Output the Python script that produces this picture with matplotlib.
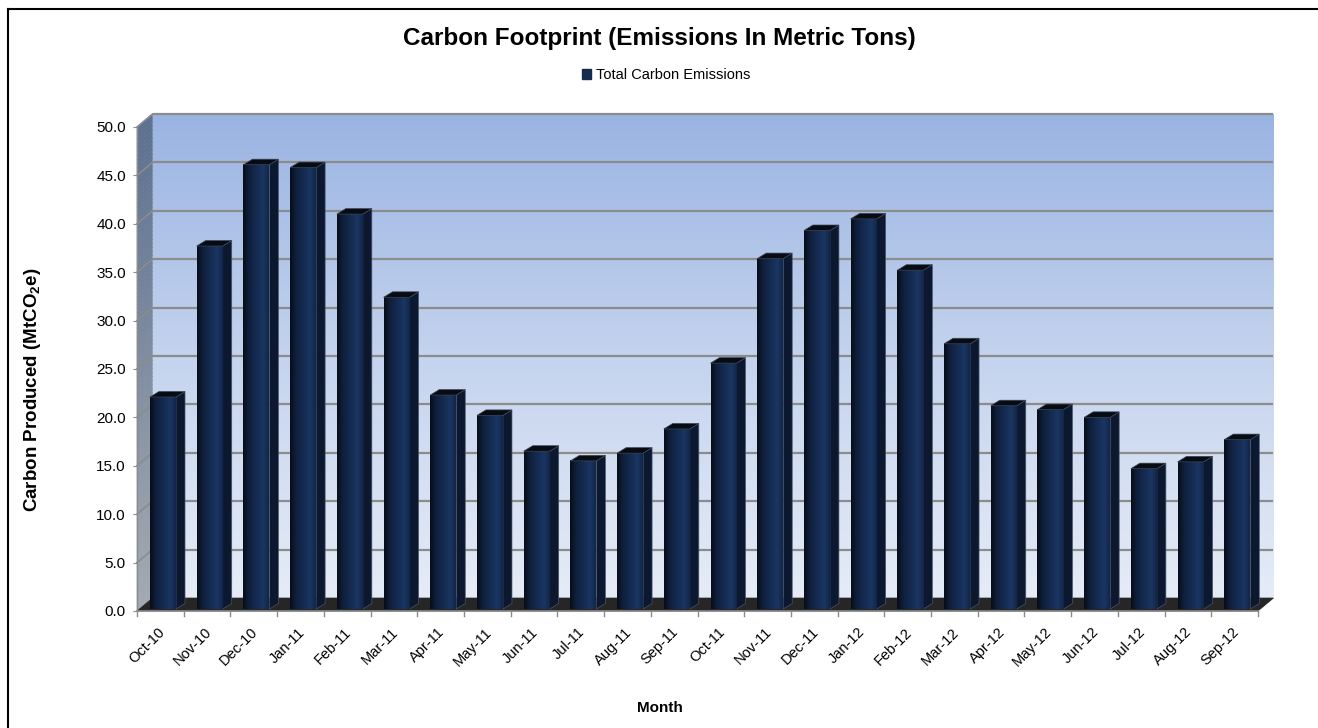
import numpy as np
import matplotlib
matplotlib.use("Agg")
import matplotlib.pyplot as plt
from matplotlib.colors import LinearSegmentedColormap, to_rgb
from matplotlib.patches import Polygon, Patch
from matplotlib.lines import Line2D
import matplotlib.transforms as mtransforms

plt.rcParams['font.family'] = ['Liberation Sans', 'DejaVu Sans']
plt.rcParams['mathtext.fontset'] = 'custom'
plt.rcParams['mathtext.rm'] = 'Liberation Sans'
plt.rcParams['mathtext.bf'] = 'Liberation Sans:bold'

# ---------------- data ----------------
months = ["Oct-10", "Nov-10", "Dec-10", "Jan-11", "Feb-11", "Mar-11", "Apr-11",
          "May-11", "Jun-11", "Jul-11", "Aug-11", "Sep-11", "Oct-11", "Nov-11",
          "Dec-11", "Jan-12", "Feb-12", "Mar-12", "Apr-12", "May-12", "Jun-12",
          "Jul-12", "Aug-12", "Sep-12"]
emissions = [21.9, 37.5, 45.9, 45.6, 40.8, 32.2, 22.1, 20.0, 16.3, 15.3, 16.1, 18.6,
             25.4, 36.2, 39.1, 40.3, 35.0, 27.4, 21.0, 20.6, 19.8, 14.5, 15.2, 17.5]
yticks = [0, 5, 10, 15, 20, 25, 30, 35, 40, 45, 50]
title = "Carbon Footprint (Emissions In Metric Tons)"
series_name = "Total Carbon Emissions"

# ---------------- layout ----------------
W, H = 1318, 728
fig = plt.figure(figsize=(W / 100, H / 100), dpi=100)
ax_l, ax_r, ax_t, ax_b = 137, 1258, 127, 611
ax = fig.add_axes([ax_l / W, (H - ax_b) / H, (ax_r - ax_l) / W, (ax_b - ax_t) / H])
n = len(months)
ax.set_xlim(0, n)
ax.set_ylim(0, 50)
ax.patch.set_visible(False)
for s in ax.spines.values():
    s.set_visible(False)

PXX = (ax_r - ax_l) / n      # px per category
PXY = (ax_b - ax_t) / 50.0   # px per unit
def dx(p):
    return p / PXX
def dy(p):
    return p / PXY

wdx, wdy = dx(15.5), dy(13)

# back wall gradient
wall_cmap = LinearSegmentedColormap.from_list('wall', ['#e6ecf7', '#c4d3ee', '#9ab4e2'])
grad = np.linspace(0, 1, 256).reshape(-1, 1)
ax.imshow(grad, cmap=wall_cmap, origin='lower', aspect='auto',
          extent=(wdx, n + wdx, wdy, 50 + wdy), clip_on=False, zorder=0,
          interpolation='bilinear')

# side wall (left) gradient strips
top_c = np.array(to_rgb('#5c7090'))
bot_c = np.array(to_rgb('#a3a9b1'))
N = 120
for k in range(N):
    y0 = 50 * k / N
    y1 = 50 * (k + 1) / N
    t = (k + 0.5) / N
    c = bot_c * (1 - t) + top_c * t
    ax.add_patch(Polygon([(0, y0), (wdx, y0 + wdy), (wdx, y1 + wdy), (0, y1)],
                         closed=True, facecolor=c, edgecolor=c, lw=0.4,
                         clip_on=False, zorder=1))

# gridlines
for v in yticks[1:]:
    ax.plot([wdx, n + wdx], [v + wdy, v + wdy], color='#8c8c8c', lw=1.6,
            clip_on=False, zorder=2, solid_capstyle='butt')
    ax.plot([0, wdx], [v, v + wdy], color='#8c8c8c', lw=1.2,
            clip_on=False, zorder=2)

# floor
ax.add_patch(Polygon([(0, 0), (n, 0), (n + wdx, wdy), (wdx, wdy)], closed=True,
                     facecolor='#262626', edgecolor='#262626', lw=0.5,
                     clip_on=False, zorder=3))

# bars
bar_cmap = LinearSegmentedColormap.from_list(
    'bar', [(0.0, '#070d18'), (0.22, '#0f1f3b'), (0.5, '#142a4f'),
            (0.78, '#1a3662'), (1.0, '#12264a')])
hgrad = np.linspace(0, 1, 64).reshape(1, -1)
bl, bw = dx(13), dx(26)
sdx, sdy = dx(9), dy(5.5)
b0 = dy(2)
for i, v in enumerate(emissions):
    xl = i + bl
    xr = xl + bw
    top = b0 + v
    # side face
    ax.add_patch(Polygon([(xr, b0), (xr + sdx, b0 + sdy), (xr + sdx, top + sdy), (xr, top)],
                         closed=True, facecolor='#0c1830', edgecolor='#4a5566', lw=0.5,
                         clip_on=False, zorder=5))
    # front face
    ax.imshow(hgrad, cmap=bar_cmap, origin='lower', aspect='auto',
              extent=(xl, xr, b0, top), clip_on=False, zorder=6,
              interpolation='bilinear')
    # top face
    ax.add_patch(Polygon([(xl, top), (xr, top), (xr + sdx, top + sdy), (xl + sdx, top + sdy)],
                         closed=True, facecolor='#070b13', edgecolor='#3c4656', lw=0.5,
                         clip_on=False, zorder=7))

ax.set_xlim(0, n)
ax.set_ylim(0, 50)

# front axes lines
ax.plot([0, n], [0, 0], color='#8c8c8c', lw=1.2, clip_on=False, zorder=4)
ax.plot([0, 0], [0, 50], color='#8c8c8c', lw=1.0, clip_on=False, zorder=4)
for i in range(n + 1):
    ax.plot([i, i], [0, -dy(5)], color='#8c8c8c', lw=1.0, clip_on=False, zorder=4)

# y ticks
ax.set_yticks(yticks)
ax.set_yticklabels([f"{v:.1f}" for v in yticks], fontsize=11)
ax.tick_params(axis='y', length=3, color='#8c8c8c', pad=5)
ax.set_xticks([])

# x tick labels
for i, m in enumerate(months):
    tr = mtransforms.offset_copy(ax.transData, fig=fig, x=-3, y=-14, units='dots')
    ax.text(i + 0.5, 0, m, transform=tr, rotation=45, ha='right', va='top',
            rotation_mode='anchor', fontsize=10.5, clip_on=False)

# titles / labels
fig.text(659 / W, 1 - 38 / H, title, ha='center', va='center', fontsize=17.5,
         fontweight='bold')
fig.text(660 / W, 1 - 708 / H, "Month", ha='center', va='center', fontsize=11,
         fontweight='bold')
fig.text(33 / W, 1 - 390 / H, r"Carbon Produced (MtCO$_\mathbf{2}$e)", ha='center',
         va='center', rotation=90, fontsize=13.5, fontweight='bold')

# legend
fig.legend(handles=[Patch(facecolor='#142a4f', edgecolor='#142a4f')], labels=[series_name],
           loc='center', bbox_to_anchor=(666 / W, 1 - 75 / H), frameon=False,
           fontsize=10.5, handlelength=0.65, handleheight=0.65, handletextpad=0.3)

# border (left and top visible)
fig.add_artist(Line2D([7.5 / W, 7.5 / W], [0, 1 - 9 / H], color='black', lw=1.5,
                      transform=fig.transFigure))
fig.add_artist(Line2D([7.5 / W, 1316.5 / W], [1 - 9 / H, 1 - 9 / H], color='black', lw=1.5,
                      transform=fig.transFigure))

fig.savefig("out.png", dpi=100)
